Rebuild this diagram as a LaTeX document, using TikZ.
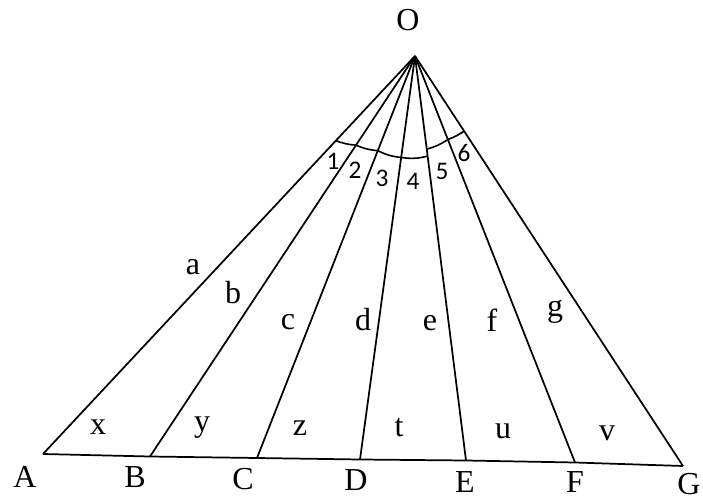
\documentclass[tikz,border=0pt]{standalone}
\usepackage{fontspec}
\setmainfont{Liberation Serif}
\newfontfamily\numfont{Carlito}
\usetikzlibrary{calc}
\begin{document}
\begin{tikzpicture}[x=0.75pt,y=-0.75pt,
  ray/.style={line width=1.3pt, black},
  arcline/.style={line width=1.2pt, black},
  lbl/.style={inner sep=0pt, font=\fontsize{24}{27}\selectfont},
  num/.style={inner sep=0pt, font=\numfont\fontsize{19}{21}\selectfont},
]
\useasboundingbox (0,0) rectangle (703,502);
% vertices
\coordinate (O) at (415,56);
\coordinate (A) at (43,454);
\coordinate (B) at (150,456.5);
\coordinate (C) at (257,458);
\coordinate (D) at (360,459.5);
\coordinate (E) at (466,460.5);
\coordinate (F) at (575,462.5);
\coordinate (G) at (683,466);
% rays and base
\foreach \p in {A,B,C,D,E,F,G} \draw[ray] (O) -- (\p);
\draw[ray] (A) -- (B) -- (C) -- (D) -- (E) -- (F) -- (G);
% angle arcs
\coordinate (a1) at ($(O)!86.9pt!(A)$);
\coordinate (b1) at ($(O)!80.2pt!(B)$);
\coordinate (c1) at ($(O)!76.3pt!(C)$);
\coordinate (d1) at ($(O)!76.8pt!(D)$);
\coordinate (e1) at ($(O)!75.7pt!(E)$);
\coordinate (e2) at ($(O)!70.4pt!(E)$);
\coordinate (f1) at ($(O)!67.3pt!(F)$);
\coordinate (g1) at ($(O)!67.3pt!(G)$);
\draw[arcline] (a1) to[bend right=8] (b1);
\draw[arcline] (b1) to[bend right=9] (c1);
\draw[arcline] (c1) to[bend right=10] (d1);
\draw[arcline] (d1) to[bend right=11] (e1);
\draw[arcline] (e2) to[bend right=9] (f1);
\draw[arcline] (f1) to[bend right=7] (g1);
% vertex labels
\node[lbl] (lO) at (408,20) {O};
\node[lbl] (lA) at (25,477) {A};
\node[lbl] (lB) at (135,477) {B};
\node[lbl] (lC) at (243,479) {C};
\node[lbl] (lD) at (356,480) {D};
\node[lbl] (lE) at (465,482) {E};
\node[lbl] (lF) at (575,482) {F};
\node[lbl] (lG) at (689,484) {G};
% side labels
\node[lbl] (la) at (193,267) {a};
\node[lbl] (lb) at (233,293) {b};
\node[lbl] (lc) at (288,322) {c};
\node[lbl] (ld) at (363,320) {d};
\node[lbl] (le) at (430,323) {e};
\node[lbl] (lf) at (492,320) {f};
\node[lbl] (lg) at (555,312) {g};
% base segment labels
\node[lbl] (lx) at (98,427) {x};
\node[lbl] (ly) at (202,428) {y};
\node[lbl] (lz) at (300,428) {z};
\node[lbl] (lt) at (399,428) {t};
\node[lbl] (lu) at (503,431) {u};
\node[lbl] (lv) at (607,433) {v};
% angle numbers
\node[num] (n1) at (333,161) {1};
\node[num] (n2) at (355,170) {2};
\node[num] (n3) at (382,178) {3};
\node[num] (n4) at (413,181) {4};
\node[num] (n5) at (442,171) {5};
\node[num] (n6) at (464,153) {6};
\end{tikzpicture}
\end{document}
